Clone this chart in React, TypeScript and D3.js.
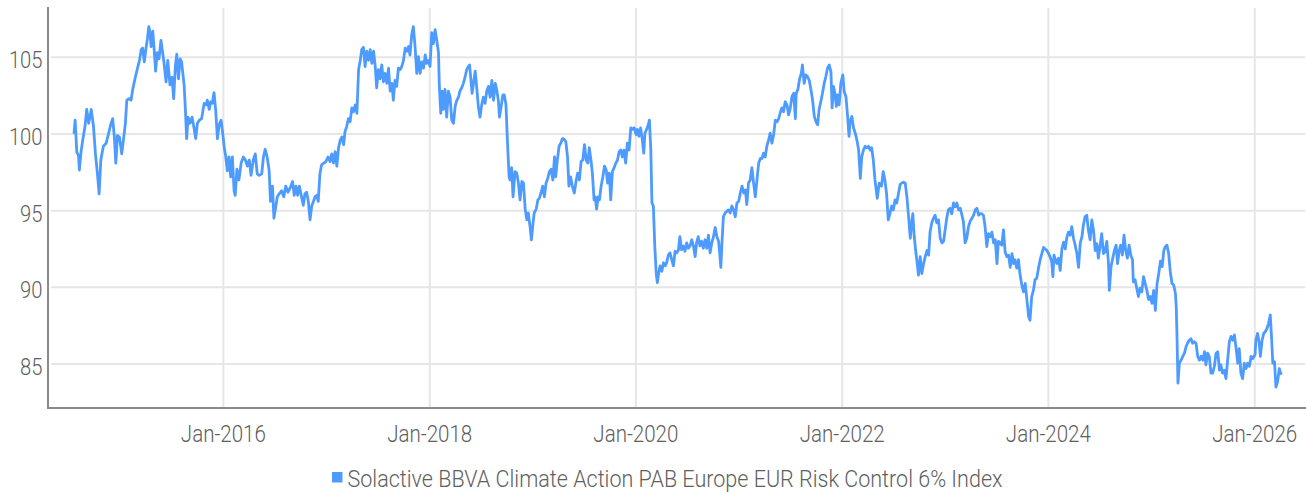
import React from "react";
import * as d3 from "d3";

type Pt = [string, number];

const seriesName = "Solactive BBVA Climate Action PAB Europe EUR Risk Control 6% Index";

const y2014: Pt[] = [["2014-07-21",100.0],["2014-07-25",100.9],["2014-07-31",98.8],["2014-08-06",98.6],["2014-08-09",97.65],["2014-08-15",98.85],["2014-08-21",99.6],["2014-08-29",100.5],["2014-09-04",101.6],["2014-09-11",100.7],["2014-09-20",101.6],["2014-09-28",100.5],["2014-10-05",98.7],["2014-10-12",97.4],["2014-10-18",96.1],["2014-10-24",98.3],["2014-11-02",99.2],["2014-11-12",99.4],["2014-11-20",100.0],["2014-11-28",100.6],["2014-12-05",101.0],["2014-12-11",99.8],["2014-12-16",98.1],["2014-12-22",99.9],["2014-12-29",99.8]];

const y2015: Pt[] = [["2015-01-06",98.7],["2015-01-12",99.6],["2015-01-19",100.7],["2015-01-24",102.2],["2015-02-01",102.3],["2015-02-08",102.2],["2015-02-14",102.9],["2015-02-22",103.6],["2015-03-03",104.3],["2015-03-10",104.8],["2015-03-16",105.5],["2015-03-21",105.6],["2015-03-27",104.7],["2015-04-02",105.6],["2015-04-07",106.2],["2015-04-12",107.0],["2015-04-16",106.6],["2015-04-20",105.7],["2015-04-26",106.7],["2015-05-01",105.5],["2015-05-06",104.1],["2015-05-12",105.3],["2015-05-18",104.9],["2015-05-25",106.1],["2015-05-31",105.3],["2015-06-05",104.6],["2015-06-12",103.4],["2015-06-18",104.8],["2015-06-26",103.2],["2015-07-03",103.7],["2015-07-09",102.3],["2015-07-15",104.4],["2015-07-20",105.2],["2015-07-26",103.6],["2015-08-01",104.9],["2015-08-06",104.7],["2015-08-15",103.2],["2015-08-19",101.8],["2015-08-24",99.7],["2015-08-29",101.1],["2015-09-05",100.7],["2015-09-12",101.1],["2015-09-19",100.4],["2015-09-25",99.7],["2015-10-01",100.7],["2015-10-08",100.9],["2015-10-16",101.0],["2015-10-25",102.0],["2015-11-01",101.9],["2015-11-05",102.2],["2015-11-12",101.6],["2015-11-17",102.1],["2015-11-23",102.0],["2015-11-29",102.7],["2015-12-05",101.5],["2015-12-11",99.7],["2015-12-17",100.6],["2015-12-24",100.9],["2015-12-30",100.0]];

const y2016: Pt[] = [["2016-01-05",99.0],["2016-01-09",98.6],["2016-01-15",97.6],["2016-01-21",98.5],["2016-01-27",97.2],["2016-02-02",98.5],["2016-02-08",96.3],["2016-02-12",96.0],["2016-02-18",97.7],["2016-02-25",97.0],["2016-03-04",98.1],["2016-03-12",98.5],["2016-03-19",98.3],["2016-03-26",97.9],["2016-04-02",98.3],["2016-04-08",97.3],["2016-04-16",98.3],["2016-04-23",98.7],["2016-04-30",97.4],["2016-05-07",97.3],["2016-05-16",97.4],["2016-05-22",98.5],["2016-05-28",99.0],["2016-06-04",98.5],["2016-06-11",97.65],["2016-06-16",95.6],["2016-06-23",96.6],["2016-06-28",94.5],["2016-07-05",95.3],["2016-07-10",95.9],["2016-07-17",96.1],["2016-07-25",96.3],["2016-08-02",95.9],["2016-08-09",96.6],["2016-08-17",96.2],["2016-08-25",96.5],["2016-09-02",96.9],["2016-09-08",96.0],["2016-09-14",96.6],["2016-09-20",96.0],["2016-09-26",96.6],["2016-10-04",95.9],["2016-10-10",95.35],["2016-10-16",96.1],["2016-10-22",96.2],["2016-10-28",95.6],["2016-11-03",94.4],["2016-11-09",95.3],["2016-11-15",95.6],["2016-11-21",95.9],["2016-11-27",96.0],["2016-12-02",95.6],["2016-12-08",97.4],["2016-12-14",98.0],["2016-12-22",98.1],["2016-12-29",98.2]];

const y2017: Pt[] = [["2017-01-06",98.5],["2017-01-13",98.2],["2017-01-19",98.7],["2017-01-25",98.1],["2017-01-31",98.85],["2017-02-06",97.9],["2017-02-12",99.1],["2017-02-18",99.6],["2017-02-24",99.8],["2017-03-02",99.3],["2017-03-07",100.15],["2017-03-13",100.5],["2017-03-19",101.0],["2017-03-25",100.8],["2017-03-31",101.7],["2017-04-06",101.45],["2017-04-12",101.9],["2017-04-18",101.35],["2017-04-24",104.2],["2017-04-30",104.8],["2017-05-05",105.5],["2017-05-11",105.65],["2017-05-17",104.4],["2017-05-23",105.4],["2017-05-29",104.8],["2017-06-04",105.5],["2017-06-10",104.6],["2017-06-16",105.4],["2017-06-22",104.4],["2017-06-27",103.0],["2017-07-03",104.2],["2017-07-09",103.6],["2017-07-15",104.5],["2017-07-21",103.4],["2017-07-27",103.95],["2017-08-02",103.3],["2017-08-08",104.3],["2017-08-14",102.8],["2017-08-20",103.3],["2017-08-25",102.2],["2017-08-31",103.5],["2017-09-06",103.1],["2017-09-12",104.3],["2017-09-18",104.2],["2017-09-24",104.4],["2017-09-30",104.8],["2017-10-06",105.6],["2017-10-12",105.4],["2017-10-18",105.7],["2017-10-23",105.15],["2017-10-29",106.45],["2017-11-04",107.0],["2017-11-10",105.7],["2017-11-16",103.95],["2017-11-22",105.05],["2017-11-28",103.95],["2017-12-04",104.7],["2017-12-10",104.3],["2017-12-16",105.15],["2017-12-21",104.6],["2017-12-27",104.8]];

const y2018: Pt[] = [["2018-01-02",104.4],["2018-01-08",106.6],["2018-01-14",105.9],["2018-01-20",106.8],["2018-01-26",106.1],["2018-02-01",105.3],["2018-02-04",103.1],["2018-02-09",101.35],["2018-02-14",102.8],["2018-02-18",101.6],["2018-02-24",102.9],["2018-03-02",101.1],["2018-03-08",102.8],["2018-03-14",102.4],["2018-03-20",100.9],["2018-03-26",100.7],["2018-04-01",101.8],["2018-04-07",102.2],["2018-04-13",102.4],["2018-04-18",102.8],["2018-04-24",103.0],["2018-04-30",103.3],["2018-05-06",103.7],["2018-05-12",104.2],["2018-05-18",104.4],["2018-05-22",104.5],["2018-05-26",103.7],["2018-05-31",102.65],["2018-06-05",103.3],["2018-06-11",104.1],["2018-06-17",102.9],["2018-06-22",101.8],["2018-06-28",101.1],["2018-07-04",101.9],["2018-07-10",102.4],["2018-07-16",102.0],["2018-07-22",102.8],["2018-07-28",103.1],["2018-08-03",102.4],["2018-08-09",103.5],["2018-08-15",102.2],["2018-08-21",103.3],["2018-08-26",102.9],["2018-09-01",102.2],["2018-09-05",101.1],["2018-09-11",101.8],["2018-09-17",102.55],["2018-09-22",102.55],["2018-09-28",101.9],["2018-10-03",99.6],["2018-10-09",97.2],["2018-10-13",97.0],["2018-10-18",97.8],["2018-10-23",95.9],["2018-10-30",97.55],["2018-11-05",97.45],["2018-11-11",96.8],["2018-11-17",95.7],["2018-11-23",96.9],["2018-11-29",96.8],["2018-12-05",95.1],["2018-12-11",94.4],["2018-12-16",94.85],["2018-12-22",94.0],["2018-12-27",93.1]];

const y2019: Pt[] = [["2019-01-02",94.2],["2019-01-06",94.85],["2019-01-13",95.1],["2019-01-19",95.7],["2019-01-24",95.8],["2019-01-30",96.15],["2019-02-05",96.6],["2019-02-11",95.9],["2019-02-17",96.8],["2019-02-23",97.1],["2019-03-01",97.55],["2019-03-07",97.7],["2019-03-13",97.0],["2019-03-19",98.5],["2019-03-23",97.2],["2019-03-29",98.3],["2019-04-04",99.2],["2019-04-10",99.4],["2019-04-16",99.7],["2019-04-22",99.65],["2019-04-28",99.5],["2019-05-04",98.5],["2019-05-09",96.6],["2019-05-15",97.2],["2019-05-21",96.6],["2019-05-28",96.15],["2019-06-03",96.9],["2019-06-09",97.45],["2019-06-15",97.0],["2019-06-21",98.2],["2019-06-27",98.3],["2019-07-03",99.3],["2019-07-09",98.3],["2019-07-15",98.1],["2019-07-20",99.1],["2019-07-26",98.3],["2019-07-31",97.45],["2019-08-06",95.7],["2019-08-10",95.9],["2019-08-15",95.1],["2019-08-20",95.9],["2019-08-25",95.7],["2019-08-31",96.6],["2019-09-06",97.2],["2019-09-12",97.9],["2019-09-18",97.65],["2019-09-23",96.8],["2019-09-29",97.45],["2019-10-04",95.7],["2019-10-10",97.55],["2019-10-16",97.8],["2019-10-22",98.1],["2019-10-28",98.3],["2019-11-03",98.85],["2019-11-09",98.95],["2019-11-14",98.5],["2019-11-20",98.95],["2019-11-26",98.1],["2019-12-02",99.4],["2019-12-08",98.95],["2019-12-14",100.4],["2019-12-20",100.3],["2019-12-26",100.4]];

const y2020: Pt[] = [["2020-01-02",99.95],["2020-01-06",100.3],["2020-01-12",99.85],["2020-01-18",100.4],["2020-01-24",99.6],["2020-01-29",98.75],["2020-02-02",100.05],["2020-02-08",100.3],["2020-02-14",100.6],["2020-02-18",100.9],["2020-02-23",98.95],["2020-02-27",95.5],["2020-03-03",95.3],["2020-03-08",92.7],["2020-03-13",90.95],["2020-03-17",90.3],["2020-03-22",90.95],["2020-03-27",91.4],["2020-04-02",91.05],["2020-04-08",91.6],["2020-04-14",91.4],["2020-04-19",91.6],["2020-04-25",92.1],["2020-05-01",92.25],["2020-05-07",91.8],["2020-05-13",91.4],["2020-05-19",92.35],["2020-05-25",92.25],["2020-05-31",92.45],["2020-06-05",93.3],["2020-06-11",92.45],["2020-06-17",92.7],["2020-06-23",92.35],["2020-06-29",92.9],["2020-07-05",92.55],["2020-07-11",92.7],["2020-07-17",93.1],["2020-07-23",92.7],["2020-07-29",92.0],["2020-08-03",92.9],["2020-08-09",93.3],["2020-08-15",92.7],["2020-08-21",93.0],["2020-08-27",92.55],["2020-09-02",93.1],["2020-09-08",92.55],["2020-09-14",93.4],["2020-09-20",92.25],["2020-09-26",92.9],["2020-10-02",93.3],["2020-10-08",93.9],["2020-10-14",93.3],["2020-10-20",93.0],["2020-10-23",92.45],["2020-10-28",91.3],["2020-11-01",92.9],["2020-11-06",94.6],["2020-11-12",94.85],["2020-11-18",94.95],["2020-11-24",95.05],["2020-11-30",94.85],["2020-12-06",95.3],["2020-12-12",95.05],["2020-12-18",94.6],["2020-12-24",95.5],["2020-12-30",95.6]];

const y2021: Pt[] = [["2021-01-05",96.15],["2021-01-11",96.6],["2021-01-17",96.15],["2021-01-23",96.35],["2021-01-28",95.4],["2021-02-03",96.8],["2021-02-09",97.0],["2021-02-15",97.8],["2021-02-21",96.8],["2021-02-27",95.9],["2021-03-05",97.0],["2021-03-11",98.1],["2021-03-17",98.4],["2021-03-23",98.4],["2021-03-28",98.75],["2021-04-03",98.5],["2021-04-09",99.2],["2021-04-15",99.6],["2021-04-21",100.05],["2021-04-27",99.4],["2021-05-03",99.95],["2021-05-09",100.9],["2021-05-15",100.8],["2021-05-21",101.0],["2021-05-26",101.35],["2021-06-01",101.7],["2021-06-07",101.45],["2021-06-13",102.1],["2021-06-19",101.9],["2021-06-25",101.25],["2021-07-01",101.7],["2021-07-07",102.45],["2021-07-13",102.65],["2021-07-19",101.0],["2021-07-22",102.65],["2021-07-28",102.9],["2021-08-03",103.6],["2021-08-09",103.95],["2021-08-13",104.5],["2021-08-19",103.3],["2021-08-25",103.85],["2021-08-31",103.75],["2021-09-06",103.5],["2021-09-12",102.9],["2021-09-18",102.2],["2021-09-24",101.15],["2021-09-30",100.8],["2021-10-06",100.6],["2021-10-11",101.6],["2021-10-17",102.1],["2021-10-23",102.65],["2021-10-29",103.3],["2021-11-04",103.75],["2021-11-10",104.3],["2021-11-16",104.5],["2021-11-22",104.05],["2021-11-26",101.7],["2021-12-01",103.1],["2021-12-06",102.65],["2021-12-11",101.8],["2021-12-15",102.55],["2021-12-21",101.9],["2021-12-27",103.3]];

const y2022: Pt[] = [["2022-01-03",103.85],["2022-01-08",102.75],["2022-01-14",102.45],["2022-01-20",101.15],["2022-01-25",99.85],["2022-01-29",100.8],["2022-02-04",101.15],["2022-02-10",100.4],["2022-02-16",100.05],["2022-02-22",99.6],["2022-02-28",98.95],["2022-03-06",97.1],["2022-03-11",98.5],["2022-03-17",98.95],["2022-03-23",99.2],["2022-03-29",99.1],["2022-04-04",99.2],["2022-04-10",98.95],["2022-04-15",99.1],["2022-04-21",98.3],["2022-04-27",97.0],["2022-05-03",96.1],["2022-05-05",95.8],["2022-05-12",96.8],["2022-05-20",96.6],["2022-05-26",97.55],["2022-06-01",97.0],["2022-06-07",96.1],["2022-06-13",94.4],["2022-06-19",94.8],["2022-06-25",95.3],["2022-07-01",95.05],["2022-07-07",95.7],["2022-07-13",95.5],["2022-07-19",96.1],["2022-07-25",96.7],["2022-07-31",96.8],["2022-08-06",96.85],["2022-08-12",96.8],["2022-08-18",95.9],["2022-08-24",94.6],["2022-08-30",93.2],["2022-09-05",94.4],["2022-09-08",94.8],["2022-09-13",93.3],["2022-09-18",92.4],["2022-09-22",91.8],["2022-09-28",90.8],["2022-10-04",92.0],["2022-10-10",90.9],["2022-10-16",91.55],["2022-10-22",92.0],["2022-10-28",92.4],["2022-11-03",92.1],["2022-11-08",93.6],["2022-11-14",94.2],["2022-11-20",94.5],["2022-11-26",94.7],["2022-12-02",94.2],["2022-12-08",94.4],["2022-12-14",93.2],["2022-12-20",92.9],["2022-12-26",93.0]];

const y2023: Pt[] = [["2023-01-02",93.95],["2023-01-06",94.5],["2023-01-12",95.05],["2023-01-18",95.15],["2023-01-24",94.8],["2023-01-30",95.5],["2023-02-05",95.25],["2023-02-11",95.5],["2023-02-17",95.05],["2023-02-23",95.15],["2023-03-01",94.7],["2023-03-06",94.3],["2023-03-12",92.9],["2023-03-18",93.2],["2023-03-24",93.95],["2023-03-30",94.3],["2023-04-05",94.5],["2023-04-11",94.7],["2023-04-17",95.05],["2023-04-23",95.15],["2023-04-29",94.7],["2023-05-04",94.8],["2023-05-10",94.8],["2023-05-16",94.7],["2023-05-22",93.95],["2023-05-28",92.65],["2023-06-03",93.5],["2023-06-09",93.3],["2023-06-15",93.6],["2023-06-21",92.9],["2023-06-27",93.1],["2023-07-03",91.55],["2023-07-08",93.0],["2023-07-14",92.9],["2023-07-20",92.75],["2023-07-26",93.75],["2023-08-01",92.3],["2023-08-07",92.0],["2023-08-13",92.1],["2023-08-19",91.3],["2023-08-25",92.2],["2023-08-31",91.55],["2023-09-05",91.8],["2023-09-11",91.25],["2023-09-17",91.8],["2023-09-23",90.8],["2023-09-29",90.15],["2023-10-05",89.7],["2023-10-11",90.25],["2023-10-17",89.2],["2023-10-23",88.1],["2023-10-28",87.85],["2023-11-03",89.4],["2023-11-09",89.8],["2023-11-15",90.5],["2023-11-21",90.6],["2023-11-27",91.25],["2023-12-03",91.8],["2023-12-09",92.2],["2023-12-15",92.6],["2023-12-21",92.5],["2023-12-27",92.4]];

const y2024: Pt[] = [["2024-01-02",92.2],["2024-01-07",92.0],["2024-01-13",91.65],["2024-01-17",90.7],["2024-01-21",92.1],["2024-01-26",91.8],["2024-01-31",91.55],["2024-02-06",91.9],["2024-02-12",91.1],["2024-02-18",92.5],["2024-02-24",92.95],["2024-03-01",92.5],["2024-03-06",93.2],["2024-03-12",93.6],["2024-03-18",93.4],["2024-03-24",93.95],["2024-03-30",93.2],["2024-04-05",92.75],["2024-04-11",92.2],["2024-04-17",91.3],["2024-04-23",92.9],["2024-04-29",93.3],["2024-05-04",94.05],["2024-05-10",94.6],["2024-05-16",94.7],["2024-05-22",93.7],["2024-05-28",93.1],["2024-06-03",94.4],["2024-06-09",93.7],["2024-06-15",92.4],["2024-06-21",92.85],["2024-06-26",91.9],["2024-07-02",92.65],["2024-07-08",93.5],["2024-07-14",92.2],["2024-07-20",92.3],["2024-07-26",93.0],["2024-08-01",91.55],["2024-08-04",89.8],["2024-08-10",91.35],["2024-08-16",91.9],["2024-08-22",92.4],["2024-08-28",92.75],["2024-09-02",91.55],["2024-09-08",92.4],["2024-09-13",92.75],["2024-09-19",92.1],["2024-09-25",93.4],["2024-10-01",92.4],["2024-10-07",91.9],["2024-10-13",92.75],["2024-10-19",92.1],["2024-10-25",91.8],["2024-10-28",90.35],["2024-11-03",90.5],["2024-11-09",89.95],["2024-11-15",89.4],["2024-11-21",89.95],["2024-11-27",89.7],["2024-12-03",90.7],["2024-12-09",90.25],["2024-12-15",89.8],["2024-12-21",89.2],["2024-12-27",89.4]];

const y2025: Pt[] = [["2025-01-02",88.95],["2025-01-08",89.8],["2025-01-14",88.5],["2025-01-20",90.25],["2025-01-26",90.9],["2025-02-01",91.7],["2025-02-07",91.35],["2025-02-13",92.4],["2025-02-18",92.65],["2025-02-24",92.75],["2025-03-02",92.2],["2025-03-08",91.0],["2025-03-14",90.25],["2025-03-20",90.15],["2025-03-26",89.6],["2025-03-29",88.75],["2025-04-01",86.55],["2025-04-04",83.75],["2025-04-09",85.05],["2025-04-15",85.25],["2025-04-21",85.5],["2025-04-27",85.7],["2025-05-03",86.15],["2025-05-08",86.35],["2025-05-14",86.55],["2025-05-20",86.65],["2025-05-26",86.35],["2025-06-01",86.45],["2025-06-07",86.35],["2025-06-13",85.5],["2025-06-19",85.25],["2025-06-25",85.5],["2025-07-01",85.25],["2025-07-07",85.8],["2025-07-12",84.95],["2025-07-18",85.7],["2025-07-24",85.5],["2025-07-30",84.4],["2025-08-05",84.4],["2025-08-11",84.85],["2025-08-17",85.7],["2025-08-23",85.8],["2025-08-29",84.6],["2025-09-03",84.95],["2025-09-09",84.4],["2025-09-15",84.6],["2025-09-21",84.05],["2025-09-27",85.25],["2025-10-03",86.45],["2025-10-09",86.8],["2025-10-15",86.55],["2025-10-21",86.9],["2025-10-27",86.0],["2025-11-02",85.05],["2025-11-07",86.0],["2025-11-13",84.4],["2025-11-19",84.05],["2025-11-25",85.05],["2025-12-01",84.7],["2025-12-07",85.05],["2025-12-13",84.85],["2025-12-19",85.5],["2025-12-25",85.35]];

const y2026: Pt[] = [["2026-01-02",85.6],["2026-01-05",86.55],["2026-01-11",87.0],["2026-01-17",86.35],["2026-01-21",85.5],["2026-01-27",86.55],["2026-02-02",87.0],["2026-02-07",87.1],["2026-02-13",87.3],["2026-02-19",87.65],["2026-02-25",88.2],["2026-03-02",86.55],["2026-03-06",85.05],["2026-03-12",85.15],["2026-03-17",83.5],["2026-03-23",83.85],["2026-03-29",84.7],["2026-04-01",84.5],["2026-04-05",84.3]];

const yTicks = [85, 90, 95, 100, 105];
const xTickDates = ["2016-01-01", "2018-01-01", "2020-01-01", "2022-01-01", "2024-01-01", "2026-01-01"];
const xDomain = ["2014-04-27", "2026-06-28"];
const yDomain = [82.13, 108.28];

const W = 1306;
const H = 493;
const left = 50;
const right = 1305;
const top = 7;
const bottom = 408;

const FONT = "'Roboto', 'DejaVu Sans Condensed', sans-serif";
const TEXT = "#606060";
const LINE = "#4d9bff";
const GRID = "#e6e6e6";
const AXIS = "#8a8a8a";

export default function App() {
  const parse = d3.timeParse("%Y-%m-%d");
  const fmt = d3.timeFormat("%b-%Y");
  const data = [...y2014, ...y2015, ...y2016, ...y2017, ...y2018, ...y2019, ...y2020, ...y2021, ...y2022, ...y2023, ...y2024, ...y2025, ...y2026]
    .map(([d, v]) => ({ date: parse(d) as Date, value: v }));

  const x = d3.scaleTime().domain(xDomain.map((d) => parse(d) as Date)).range([left, right]);
  const y = d3.scaleLinear().domain(yDomain).range([bottom, top]);

  const line = d3.line<{ date: Date; value: number }>()
    .x((d) => x(d.date))
    .y((d) => y(d.value));

  const xTicks = xTickDates.map((d) => parse(d) as Date);
  const txt = { fontFamily: FONT, fontSize: 24.5, fontWeight: 300, fill: TEXT } as const;

  return (
    <svg width={W} height={H} style={{ position: "absolute", left: 0, top: 0, background: "#fff" }}>
      {yTicks.map((t) => (
        <line key={"hg" + t} x1={left + 1} x2={right} y1={y(t)} y2={y(t)} stroke={GRID} strokeWidth={2} />
      ))}
      {xTicks.map((t, i) => (
        <line key={"vg" + i} x1={x(t)} x2={x(t)} y1={top + 1} y2={bottom - 1} stroke={GRID} strokeWidth={2} />
      ))}
      <path d={line(data) || ""} fill="none" stroke={LINE} strokeWidth={2.8} strokeLinejoin="round" />
      <line x1={48} x2={48} y1={top} y2={bottom + 1} stroke={AXIS} strokeWidth={2} />
      <line x1={47} x2={W} y1={bottom} y2={bottom} stroke={AXIS} strokeWidth={2} />
      {yTicks.map((t) => (
        <text key={"yl" + t} x={42.5} y={y(t) + 11} textAnchor="end" {...txt}
          textLength={String(t).length * 11.2} lengthAdjust="spacingAndGlyphs">
          {t}
        </text>
      ))}
      {xTicks.map((t, i) => (
        <text key={"xl" + i} x={x(t)} y={bottom + 34} textAnchor="middle" {...txt}
          textLength={85} lengthAdjust="spacingAndGlyphs">
          {fmt(t)}
        </text>
      ))}
      <rect x={332} y={472} width={10.5} height={10.5} fill={LINE} />
      <text x={347.5} y={487} {...txt} textLength={655} lengthAdjust="spacingAndGlyphs">
        {seriesName}
      </text>
    </svg>
  );
}
